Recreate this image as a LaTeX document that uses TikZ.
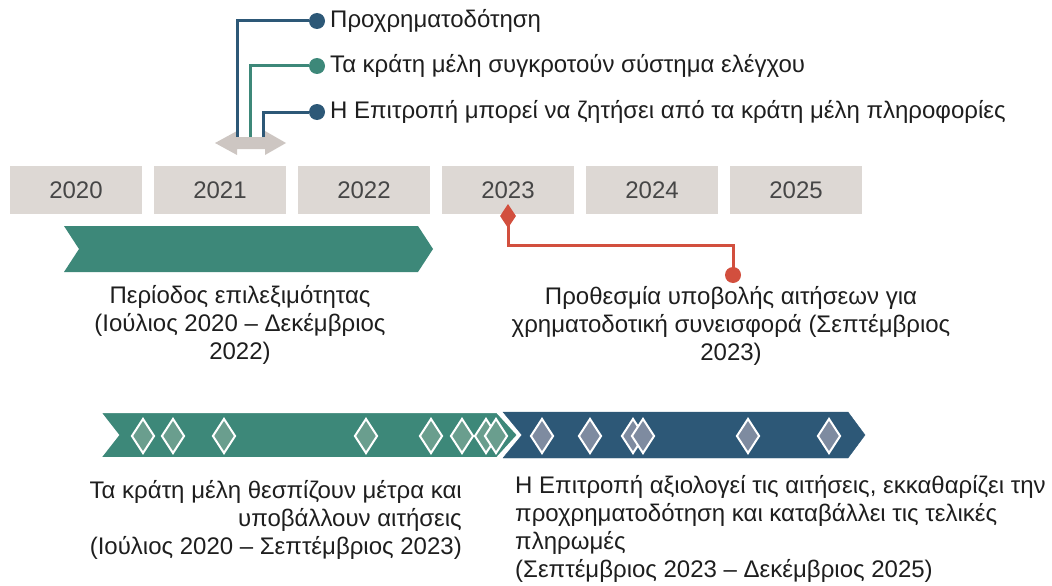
\documentclass[tikz,border=0pt]{standalone}
\usepackage{fontspec}
\setmainfont{Liberation Sans}
\usetikzlibrary{shapes.geometric}
\definecolor{cblue}{HTML}{2D5877}
\definecolor{cteal}{HTML}{3D8879}
\definecolor{cred}{HTML}{D24F3E}
\definecolor{cgray}{HTML}{DDD8D4}
\definecolor{carrow}{HTML}{CDC6C2}
\definecolor{ctxt}{HTML}{1E1E1E}
\definecolor{cyear}{HTML}{464646}
\definecolor{dteal}{HTML}{6A9E8E}
\definecolor{dblue}{HTML}{7E8BA0}
\tikzset{
  yearbox/.style={fill=cgray, minimum width=132pt, minimum height=48pt, inner sep=0pt, text=cyear, font=\fontsize{24}{24}\selectfont},
  lbl/.style={text=ctxt, font=\fontsize{24}{28}\selectfont, inner sep=0pt},
  conn/.style={line width=3pt},
  dotc/.style={circle, inner sep=0pt, minimum size=16pt},
  dia/.style={diamond, aspect=0.62, inner sep=0pt, minimum width=23pt, minimum height=35pt, draw=white, line width=2pt},
}
\begin{document}
\begin{tikzpicture}[x=1pt,y=-1pt]
\useasboundingbox (0,0) rectangle (1052,586);
% year boxes
\foreach \yr [count=\i from 0] in {2020,2021,2022,2023,2024,2025}{
  \node[yearbox] (y\yr) at (76+144*\i,190) {\yr};
}
% top chevron
\fill[cteal] (64,226) -- (418,226) -- (433,249) -- (418,272) -- (64,272) -- (79,249) -- cycle;
% double arrow
\fill[carrow] (215,143) -- (237,131) -- (237,137) -- (265,137) -- (265,131) -- (286,143) -- (265,155) -- (265,149) -- (237,149) -- (237,155) -- cycle;
\coordinate (a1) at (237,137);
\coordinate (a2) at (250,137);
\coordinate (a3) at (263,137);
% dots and labels
\node[dotc, fill=cblue] (d1) at (317,21) {};
\node[dotc, fill=cteal] (d2) at (317,66) {};
\node[dotc, fill=cblue] (d3) at (317,112) {};
\node[lbl, anchor=west] (t1) at (330,21) {Προχρηματοδότηση};
\node[lbl, anchor=west] (t2) at (330,66) {Τα κράτη μέλη συγκροτούν σύστημα ελέγχου};
\node[lbl, anchor=west] (t3) at (330,112) {Η Επιτροπή μπορεί να ζητήσει από τα κράτη μέλη πληροφορίες};
\draw[conn, cblue] (a1) |- (d1);
\draw[conn, cteal] (a2) |- (d2);
\draw[conn, cblue] (a3) |- (d3);
% red deadline
\node[diamond, fill=cred, inner sep=0pt, minimum width=16pt, minimum height=24pt, aspect=0.67] (rd) at (508,216) {};
\node[circle, fill=cred, inner sep=0pt, minimum size=16pt] (rc) at (733,275) {};
\coordinate (rk) at (508,245);
\draw[conn, cred] (rd.center) -- (rk) -| (rc.center);
% top labels
\node[lbl, align=center] (p1) at (240,325) {Περίοδος επιλεξιμότητας\\(Ιούλιος 2020 – Δεκέμβριος\\2022)};
\node[lbl, align=center] (p2) at (731,326) {Προθεσμία υποβολής αιτήσεων για\\χρηματοδοτική συνεισφορά (Σεπτέμβριος\\2023)};
% bottom chevrons
\filldraw[cblue] (503,412) -- (848,412) -- (865,435) -- (848,458) -- (503,458) -- (522,435) -- cycle;
\filldraw[fill=cteal, draw=white, line width=2pt] (100,412) -- (497,412) -- (518,435) -- (497,458) -- (100,458) -- (118,435) -- cycle;
\foreach \xx [count=\k] in {143,173,224,366,431,462,486,496}{
  \node[dia, fill=dteal] (gt\k) at (\xx,436) {};
}
\foreach \xx [count=\k] in {542,590,633,643,748,829}{
  \node[dia, fill=dblue] (gb\k) at (\xx,436) {};
}
% bottom labels
\node[lbl, align=right, anchor=east] (b1) at (462,520) {Τα κράτη μέλη θεσπίζουν μέτρα και\\υποβάλλουν αιτήσεις\\(Ιούλιος 2020 – Σεπτέμβριος 2023)};
\node[lbl, align=left, anchor=west] (b2) at (515,529) {Η Επιτροπή αξιολογεί τις αιτήσεις, εκκαθαρίζει την\\προχρηματοδότηση και καταβάλλει τις τελικές\\πληρωμές\\(Σεπτέμβριος 2023 – Δεκέμβριος 2025)};
\end{tikzpicture}
\end{document}
